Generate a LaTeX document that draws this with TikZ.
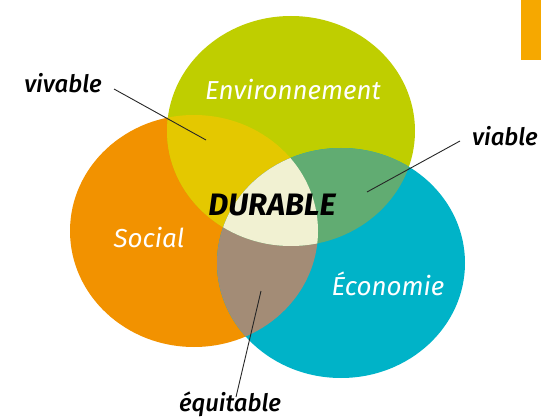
\documentclass[tikz,border=0pt]{standalone}
\usepackage{fontspec}
\setmainfont{Fira Sans}
\newfontfamily\medfont{Fira Sans Medium}
\usetikzlibrary{positioning}
\definecolor{envgreen}{RGB}{191,206,0}
\definecolor{socorange}{RGB}{242,146,0}
\definecolor{ecoteal}{RGB}{0,179,200}
\definecolor{vivyellow}{RGB}{228,200,0}
\definecolor{viagreen}{RGB}{97,172,114}
\definecolor{equbrown}{RGB}{163,140,118}
\definecolor{durcream}{RGB}{241,241,210}
\definecolor{barorange}{RGB}{246,168,0}
\tikzset{zone/.style={text=white,font=\itshape\fontsize{26}{28}\selectfont}}
\tikzset{lbl/.style={text=black,font=\medfont\itshape\fontsize{24}{26}\selectfont}}
\tikzset{leader/.style={draw=black!85,line width=0.9pt}}

\begin{document}
\begin{tikzpicture}[x=1pt,y=-1pt]
\useasboundingbox (0,0) rectangle (541,417);
\fill[barorange] (521,0) rectangle (541,60);
% centres of the three ellipses
\coordinate (soc) at (194,231);
\coordinate (env) at (291,131);
\coordinate (eco) at (341,263);
\fill[socorange] (soc) ellipse (124 and 116);
\fill[envgreen] (env) ellipse (124 and 115);
\fill[ecoteal] (eco) ellipse (124 and 115);
% overlaps
\begin{scope}
\clip (soc) ellipse (124 and 116);
\fill[vivyellow] (env) ellipse (124 and 115);
\fill[equbrown] (eco) ellipse (124 and 115);
\end{scope}
\begin{scope}
\clip (env) ellipse (124 and 115);
\fill[viagreen] (eco) ellipse (124 and 115);
\clip (soc) ellipse (124 and 116);
\fill[durcream] (eco) ellipse (124 and 115);
\end{scope}
% texts
\node[zone] (envtxt) at (293,90) {Environnement};
\node[zone] (soctxt) at (149,238) {Social};
\node[zone] (ecotxt) at (388,284) {Économie};
\node[font=\bfseries\itshape\fontsize{31}{33}\selectfont] (durable) at (272,205) {DURABLE};
\node[lbl] (vivable) at (63,83) {vivable};
\node[lbl] (viable) at (505,136) {viable};
\node[lbl] (equitable) at (230,404) {équitable};
% leaders
\coordinate (vivA) at (114,89);
\coordinate (vivB) at (206,140);
\coordinate (viaA) at (460,141);
\coordinate (viaB) at (367,192);
\coordinate (equA) at (236,397);
\coordinate (equB) at (261,291);
\draw[leader] (vivA) -- (vivB);
\draw[leader] (viaA) -- (viaB);
\draw[leader] (equA) -- (equB);
\end{tikzpicture}
\end{document}
